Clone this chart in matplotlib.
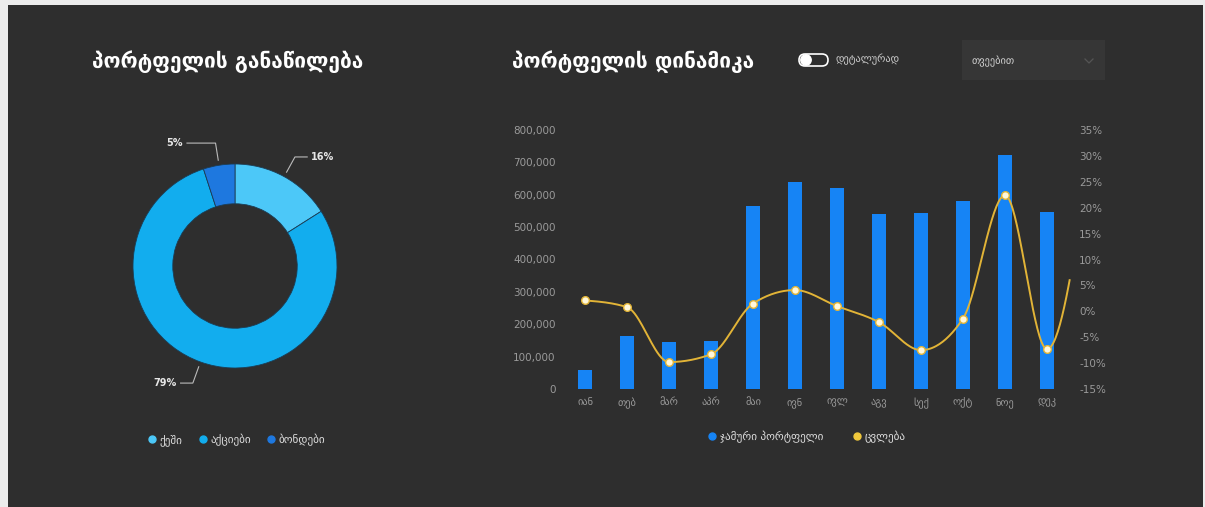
import numpy as np
import matplotlib
matplotlib.use("Agg")
import matplotlib.pyplot as plt
from matplotlib.patches import FancyBboxPatch, Rectangle
from matplotlib.lines import Line2D

plt.rcParams['font.family'] = ['DejaVu Sans']

# ---------------- data ----------------
pie_labels = ["ქეში", "აქციები", "ბონდები"]
pie_values = [16, 79, 5]
pie_colors = ["#4cc8f8", "#12adee", "#1e78df"]

months = ["იან", "თებ", "მარ", "აპრ", "მაი", "ივნ", "ივლ", "აგვ", "სექ", "ოქტ", "ნოე", "დეკ"]
portfolio = [59000, 164000, 146000, 148000, 565000, 639000, 620000, 540000, 543000, 580000, 722000, 546000]
change_pct = [2.1, 0.8, -9.8, -8.3, 1.5, 4.1, 1.0, -2.1, -7.5, -1.4, 22.4, -7.3]
change_next = 30.0  # following period, only partly visible at the right edge

left_ticks = [0, 100000, 200000, 300000, 400000, 500000, 600000, 700000, 800000]
right_ticks = [-15, -10, -5, 0, 5, 10, 15, 20, 25, 30, 35]

title_left = "პორტფელის განაწილება"
title_right = "პორტფელის დინამიკა"
toggle_text = "დეტალურად"
dropdown_text = "თვეებით"
bar_label = "ჯამური პორტფელი"
line_label = "ცვლება"

# ---------------- figure ----------------
W, H = 1205, 507
fig = plt.figure(figsize=(W / 100, H / 100), dpi=100)
fig.patch.set_facecolor("#ececec")

def fr(x0, y0, x1, y1):
    """pixel box (top-left origin) -> figure fraction rect"""
    return [x0 / W, 1 - y1 / H, (x1 - x0) / W, (y1 - y0) / H]

bg = fig.add_axes([0, 0, 1, 1], zorder=-5)
bg.set_xlim(0, W)
bg.set_ylim(H, 0)
bg.axis("off")
bg.add_patch(Rectangle((8, 5), 1195, 505, color="#2e2e2e", lw=0))

TXT = "#e6e6e6"
TICK = "#9a9a9a"

bg.text(92, 62, title_left, color="white", fontsize=15, fontweight="bold", va="center", ha="left")
bg.text(512, 62, title_right, color="white", fontsize=15, fontweight="bold", va="center", ha="left")

# toggle
bg.add_patch(FancyBboxPatch((799, 54), 29, 12, boxstyle="round,pad=0,rounding_size=6",
                            fc="#2e2e2e", ec="white", lw=1.2))
bg.add_patch(plt.Circle((806, 60), 5.2, color="white"))
bg.text(836, 59, toggle_text, color="#cfcfcf", fontsize=7.5, va="center", ha="left")

# dropdown
bg.add_patch(Rectangle((962, 40), 143, 40, color="#363636", lw=0))
bg.text(972, 61, dropdown_text, color="#d0d0d0", fontsize=7.5, va="center", ha="left")
bg.plot([1085, 1089, 1093], [59, 63, 59], color="#555555", lw=0.9)

# ---------------- donut ----------------
cx, cy, R = 235, 266, 102
pax = fig.add_axes(fr(cx - R, cy - R, cx + R, cy + R))
wedges, _ = pax.pie(pie_values, colors=pie_colors, startangle=90, counterclock=False,
                    radius=1.0, wedgeprops=dict(width=0.39, edgecolor="#1b3d55", linewidth=0.6))
pax.set_xlim(-1, 1)
pax.set_ylim(-1, 1)
pax.set_aspect("equal")
pax.axis("off")

total = float(sum(pie_values))
start = 90.0
for v, w in zip(pie_values, wedges):
    sweep = 360.0 * v / total
    mid = np.deg2rad(start - sweep / 2)
    start -= sweep
    c, s = np.cos(mid), np.sin(mid)
    p1 = (1.05 * c, 1.05 * s)
    p2 = (1.22 * c, 1.22 * s)
    side = 1 if c >= 0 else -1
    hlen = 0.28 if abs(c) < 0.3 else 0.12
    p3 = (p2[0] + side * hlen, p2[1])
    pax.plot([p1[0], p2[0], p3[0]], [p1[1], p2[1], p3[1]], color="#bbbbbb", lw=0.8, clip_on=False)
    pax.text(p3[0] + side * 0.04, p3[1], f"{v}%", color=TXT, fontsize=7, fontweight="bold",
             ha="left" if side > 0 else "right", va="center", clip_on=False)

pie_handles = [Line2D([], [], marker="o", ls="none", ms=5, mfc=c, mec=c) for c in pie_colors]
fig.legend(pie_handles, pie_labels, loc="center", bbox_to_anchor=(236 / W, 1 - 440 / H), ncol=3,
           frameon=False, fontsize=8, labelcolor="#dddddd", handletextpad=0.2, columnspacing=1.3,
           handlelength=1.0)

# ---------------- bar + line ----------------
ax = fig.add_axes(fr(564, 130, 1068, 389))
ax.set_facecolor("none")
x = np.arange(len(months))
ax.bar(x, portfolio, width=0.33, color="#1684f5", zorder=2)
ax.set_xlim(-0.5, 11.5)
ax.set_ylim(0, 800000)
ax.set_yticks(left_ticks)
ax.set_yticklabels([f"{t:,}" for t in left_ticks])
ax.set_xticks(x)
ax.set_xticklabels(months)
for sp in ax.spines.values():
    sp.set_visible(False)
ax.tick_params(axis="both", length=0, colors=TICK, labelsize=7.5)
ax.tick_params(axis="y", pad=6)
ax.tick_params(axis="x", pad=6)

ax2 = ax.twinx()
ax2.set_ylim(-15, 35)
ax2.set_yticks(right_ticks)
ax2.set_yticklabels([f"{t}%" for t in right_ticks])
for sp in ax2.spines.values():
    sp.set_visible(False)
ax2.tick_params(axis="y", length=0, colors=TICK, labelsize=7.5, pad=8)

# monotone cubic (monotoneX) curve
ys = np.array(change_pct + [change_next], dtype=float)
xs = np.arange(len(ys), dtype=float)
sl = np.diff(ys)
m = np.zeros_like(ys)
for i in range(1, len(ys) - 1):
    s0, s1 = sl[i - 1], sl[i]
    p = (s0 + s1) / 2
    m[i] = (np.sign(s0) + np.sign(s1)) * min(abs(s0), abs(s1), 0.5 * abs(p))
m[0] = (3 * sl[0] - m[1]) / 2
m[-1] = (3 * sl[-1] - m[-2]) / 2
cxs, cys = [], []
for i in range(len(ys) - 1):
    t = np.linspace(0, 1, 40)
    h00 = 2 * t**3 - 3 * t**2 + 1
    h10 = t**3 - 2 * t**2 + t
    h01 = -2 * t**3 + 3 * t**2
    h11 = t**3 - t**2
    cxs.append(xs[i] + t)
    cys.append(h00 * ys[i] + h10 * m[i] + h01 * ys[i + 1] + h11 * m[i + 1])
cxs = np.concatenate(cxs)
cys = np.concatenate(cys)
keep = cxs <= 11.55
ax2.plot(cxs[keep], cys[keep], color="#e2b437", lw=1.4, zorder=3, clip_on=False)
ax2.plot(x, change_pct, ls="none", marker="o", ms=5.5, mfc="#fff8dc", mec="#e2b437", mew=1.0, zorder=4)

bar_handles = [Line2D([], [], marker="o", ls="none", ms=5, mfc="#1684f5", mec="#1684f5"),
               Line2D([], [], marker="o", ls="none", ms=5, mfc="#f0c83c", mec="#f0c83c")]
fig.legend(bar_handles, [bar_label, line_label], loc="center", bbox_to_anchor=(806 / W, 1 - 437 / H),
           ncol=2, frameon=False, fontsize=8, labelcolor="#dddddd", handletextpad=0.2,
           columnspacing=2.5, handlelength=1.0)

fig.savefig("out.png", dpi=100, facecolor=fig.get_facecolor())
